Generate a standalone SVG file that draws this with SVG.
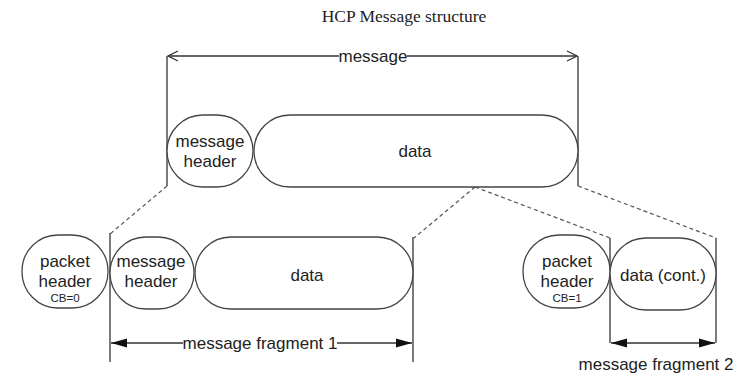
<svg xmlns="http://www.w3.org/2000/svg" width="741" height="374" viewBox="0 0 741 374">
<defs>
<style>
.box{fill:#fff;stroke:#444;stroke-width:1.3}
.ln{fill:none;stroke:#333;stroke-width:1.3}
.dash{fill:none;stroke:#555;stroke-width:1.2;stroke-dasharray:4 3}
.t{font-family:"Liberation Sans",Arial,sans-serif;font-size:17px;fill:#222;text-anchor:middle}
.s{font-family:"Liberation Sans",Arial,sans-serif;font-size:11.5px;fill:#222;text-anchor:middle}
.title{font-family:"Liberation Serif","Times New Roman",serif;font-size:17.5px;fill:#222;text-anchor:middle}
</style>
<marker id="open" viewBox="0 0 12 12" refX="11" refY="6" markerWidth="12" markerHeight="12" markerUnits="userSpaceOnUse" orient="auto-start-reverse">
<path d="M1,1 L11,6 L1,11" fill="none" stroke="#333" stroke-width="1.3"/>
</marker>
<marker id="fill" viewBox="0 0 16 10" refX="16" refY="5" markerWidth="16" markerHeight="10" markerUnits="userSpaceOnUse" orient="auto-start-reverse">
<path d="M0,0.5 L16,5 L0,9.5 Z" fill="#111"/>
</marker>
</defs>
<rect width="741" height="374" fill="#fff"/>
<text class="title" x="404" y="22">HCP Message structure</text>

<g id="connectors">
<line class="ln" x1="167" y1="56" x2="167" y2="186"/>
<line class="ln" x1="578" y1="56" x2="578" y2="186"/>
<line class="ln" x1="168" y1="56" x2="577" y2="56" marker-start="url(#open)" marker-end="url(#open)"/>
<path class="dash" d="M167,186 L110,234"/>
<path class="dash" d="M475,187 L414,238"/>
<path class="dash" d="M475,187 L610,238"/>
<path class="dash" d="M578,186 L716,238"/>
<line class="ln" x1="110" y1="233" x2="110" y2="362"/>
<line class="ln" x1="413" y1="237" x2="413" y2="362"/>
<line class="ln" x1="111" y1="343" x2="412" y2="343" marker-start="url(#fill)" marker-end="url(#fill)"/>
<line class="ln" x1="610" y1="238" x2="610" y2="343"/>
<line class="ln" x1="716" y1="238" x2="716" y2="343"/>
<line class="ln" x1="611" y1="343" x2="715" y2="343" marker-start="url(#fill)" marker-end="url(#fill)"/>
<rect x="339" y="48" width="68" height="16" fill="#fff"/>
<text class="t" x="373" y="62">message</text>
<rect x="183" y="335" width="154" height="16" fill="#fff"/>
<text class="t" x="260" y="349">message fragment 1</text>
<text class="t" x="656" y="370">message fragment 2</text>
</g>

<g id="msg-header">
<rect class="box" x="167" y="115" width="86" height="72" rx="36"/>
<text class="t" x="210" y="147">message</text>
<text class="t" x="210" y="167">header</text>
</g>
<g id="msg-data">
<rect class="box" x="254" y="115" width="324" height="72" rx="36"/>
<text class="t" x="415" y="157">data</text>
</g>

<g id="pkt-header-0">
<rect class="box" x="22" y="235" width="86" height="73" rx="36"/>
<text class="t" x="65" y="267">packet</text>
<text class="t" x="65" y="287">header</text>
<text class="s" x="65" y="302">CB=0</text>
</g>
<g id="frag1-header">
<rect class="box" x="110" y="237" width="84" height="72" rx="36"/>
<text class="t" x="151" y="267">message</text>
<text class="t" x="151" y="287">header</text>
</g>
<g id="frag1-data">
<rect class="box" x="195" y="237" width="218" height="72" rx="36"/>
<text class="t" x="307" y="281">data</text>
</g>

<g id="pkt-header-1">
<rect class="box" x="523" y="235" width="87" height="73" rx="36"/>
<text class="t" x="567" y="267">packet</text>
<text class="t" x="567" y="287">header</text>
<text class="s" x="567" y="302">CB=1</text>
</g>
<g id="frag2-data">
<rect class="box" x="610" y="238" width="106" height="72" rx="36"/>
<text class="t" x="663" y="281">data (cont.)</text>
</g>
</svg>
